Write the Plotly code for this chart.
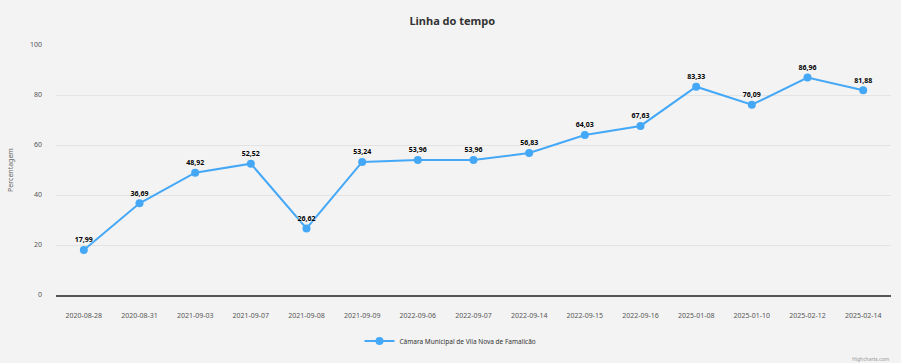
import plotly.graph_objects as go

categories = ["2020-08-28", "2020-08-31", "2021-09-03", "2021-09-07", "2021-09-08",
              "2021-09-09", "2022-09-06", "2022-09-07", "2022-09-14", "2022-09-15",
              "2022-09-16", "2025-01-08", "2025-01-10", "2025-02-12", "2025-02-14"]
values = [17.99, 36.69, 48.92, 52.52, 26.62, 53.24, 53.96, 53.96, 56.83, 64.03,
          67.63, 83.33, 76.09, 86.96, 81.88]
labels = [f"{v:.2f}".replace(".", ",") for v in values]
series_name = "Câmara Municipal de Vila Nova de Famalicão"
y_ticks = [0, 20, 40, 60, 80, 100]

FONT = "Noto Sans"
COLOR = "#45a8f7"

fig = go.Figure()
fig.add_trace(go.Scatter(
    x=list(range(len(categories))), y=values, mode="lines+markers+text",
    name=series_name, text=labels, textposition="top center",
    line=dict(color=COLOR, width=2),
    marker=dict(color=COLOR, size=8),
    textfont=dict(family=FONT, size=7, color="#000000", weight="bold",
                  shadow="0px 0px 3px #ffffff"),
    cliponaxis=False,
))

fig.update_layout(
    width=901, height=363,
    paper_bgcolor="#f3f3f3", plot_bgcolor="#f3f3f3",
    margin=dict(l=56, r=10, t=45, b=68, autoexpand=False),
    title=dict(text="<b>Linha do tempo</b>", x=0.502, xanchor="center",
               xref="container", y=1 - 21.5 / 363, yanchor="middle",
               font=dict(family=FONT, size=11, color="#333333")),
    font=dict(family=FONT, size=7, color="#666666"),
    showlegend=True,
    legend=dict(orientation="h", xref="container", x=0.5, xanchor="center",
                y=-0.184, yanchor="middle",
                font=dict(family=FONT, size=6.5, color="#333333"), itemwidth=30,
                bgcolor="rgba(0,0,0,0)"),
    xaxis=dict(
        tickmode="array", tickvals=list(range(len(categories))), ticktext=categories,
        range=[-0.5, len(categories) - 0.5], showgrid=False, zeroline=False,
        showline=True, linecolor="#555555", linewidth=1.5, automargin=False,
        ticks="", tickfont=dict(size=7, color="#555555"), ticklabelstandoff=13,
    ),
    yaxis=dict(
        range=[0, 100], tickmode="array", tickvals=y_ticks, automargin=False,
        showgrid=True, gridcolor="#e3e3e3", gridwidth=1, zeroline=False,
        title=dict(text="Percentagem", font=dict(size=7, color="#666666"), standoff=15),
        tickfont=dict(size=7, color="#555555"), ticklabelstandoff=13,
    ),
)

fig.add_annotation(text="Highcharts.com", xref="paper", yref="paper", x=1.0, y=-0.256,
                   xanchor="right", yanchor="middle", showarrow=False,
                   font=dict(family=FONT, size=5, color="#999999"))

fig.write_html("out.html", config={"displayModeBar": False},
               post_script="document.body.style.margin='0';document.body.style.background='#f3f3f3';")
